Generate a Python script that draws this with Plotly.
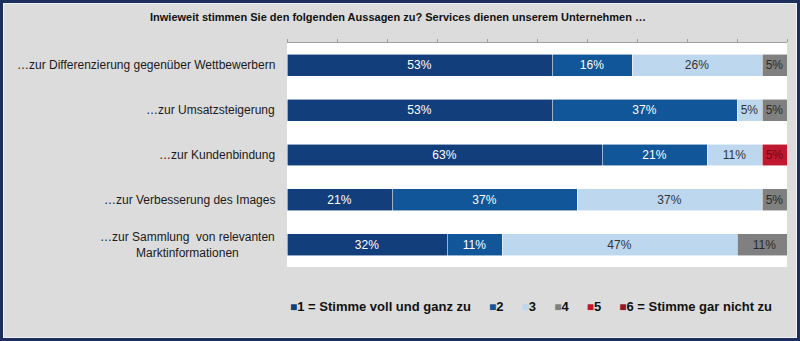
import plotly.graph_objects as go

# ---------------- data ----------------
categories = [
    "…zur Differenzierung gegenüber Wettbewerbern",
    "…zur Umsatzsteigerung",
    "…zur Kundenbindung",
    "…zur Verbesserung des Images",
    "…zur Sammlung  von relevanten<br>Marktinformationen",
]
series_names = ["1 = Stimme voll und ganz zu", "2", "3", "4", "5", "6 = Stimme gar nicht zu"]
s1 = [53, 53, 63, 21, 32]
s2 = [16, 37, 21, 37, 11]
s3 = [26, 5, 11, 37, 47]
s4 = [5, 5, 0, 5, 11]
s5 = [0, 0, 5, 0, 0]
s6 = [0, 0, 0, 0, 0]
series_values = [s1, s2, s3, s4, s5, s6]
title_text = "Inwieweit stimmen Sie den folgenden Aussagen zu? Services dienen unserem Unternehmen …"

# ---------------- style ----------------
colors = ["#133e7c", "#105699", "#bdd7ee", "#808080", "#c0182f", "#8b1a2b"]
text_colors = ["#ffffff", "#ffffff", "#333333", "#2a2a2a", "#6b0a14", "#ffffff"]
W, H = 800, 341
ML, MR, MT, MB = 287, 13, 43, 74
PW, PH = W - ML - MR, H - MT - MB
FONT = "Arial, Liberation Sans, sans-serif"


def px_to_paper_x(px):
    return (px - ML) / PW


def px_to_paper_y(py):
    return (H - MB - py) / PH


fig = go.Figure()
for name, vals, col, tcol in zip(series_names, series_values, colors, text_colors):
    fig.add_trace(go.Bar(
        y=categories, x=vals, name=name, orientation="h",
        marker=dict(color=col, line=dict(color="rgba(255,255,255,0.7)", width=0.8)),
        text=[f"{v}%" if v > 0 else "" for v in vals],
        textposition="inside", insidetextanchor="middle", textangle=0,
        textfont=dict(family=FONT, size=12, color=tcol),
        constraintext="none",
        showlegend=False, hoverinfo="skip",
    ))

# category labels (right-aligned block, centered lines)
annotations = []
for c in categories:
    annotations.append(dict(
        x=0, xref="paper", y=c, yref="y", xanchor="right", yanchor="middle",
        xshift=-10, text=c, showarrow=False, align="center",
        font=dict(family=FONT, size=12, color="#1a1a1a"),
    ))

# title
annotations.append(dict(
    x=px_to_paper_x(398), xref="paper", y=px_to_paper_y(17), yref="paper",
    xanchor="center", yanchor="middle", text=title_text, showarrow=False,
    font=dict(family=FONT, size=11, color="#111111", weight="bold"),
))

# legend as rich text
nb = "\u00a0"
parts = []
for name, col in zip(series_names, colors):
    parts.append(f"<span style='color:{col};font-size:12px'>■</span>{name}")
legend_text = (nb * 5).join(parts)
annotations.append(dict(
    x=px_to_paper_x(288), xref="paper", y=px_to_paper_y(306), yref="paper",
    xanchor="left", yanchor="middle", text=legend_text, showarrow=False,
    font=dict(family=FONT, size=13, color="#111111", weight="bold"),
))

shapes = [
    # outer navy frame
    dict(type="rect", xref="paper", yref="paper",
         x0=px_to_paper_x(1.5), x1=px_to_paper_x(W - 1.5),
         y0=px_to_paper_y(H - 1.5), y1=px_to_paper_y(1.5),
         line=dict(color="#1d2d5c", width=3), layer="above"),
    # inner light line
    dict(type="rect", xref="paper", yref="paper",
         x0=px_to_paper_x(3.5), x1=px_to_paper_x(W - 3.5),
         y0=px_to_paper_y(H - 3.5), y1=px_to_paper_y(3.5),
         line=dict(color="#eef2f8", width=1), layer="above"),
]

fig.update_layout(
    width=W, height=H,
    margin=dict(l=ML, r=MR, t=MT, b=MB),
    paper_bgcolor="#dcdcdc", plot_bgcolor="#ffffff",
    barmode="stack", bargap=0.51,
    showlegend=False,
    annotations=annotations, shapes=shapes,
    xaxis=dict(range=[0, 100], side="top", showticklabels=False, ticks="outside",
               ticklen=3, tickcolor="#a0a0a0", dtick=10, tick0=0, showgrid=False,
               showline=True, linecolor="#a0a0a0", linewidth=1, zeroline=False,
               fixedrange=True),
    yaxis=dict(autorange="reversed", showticklabels=False, showgrid=False,
               showline=False, ticks="", fixedrange=True),
    font=dict(family=FONT),
)

fig.write_html("out.html")
